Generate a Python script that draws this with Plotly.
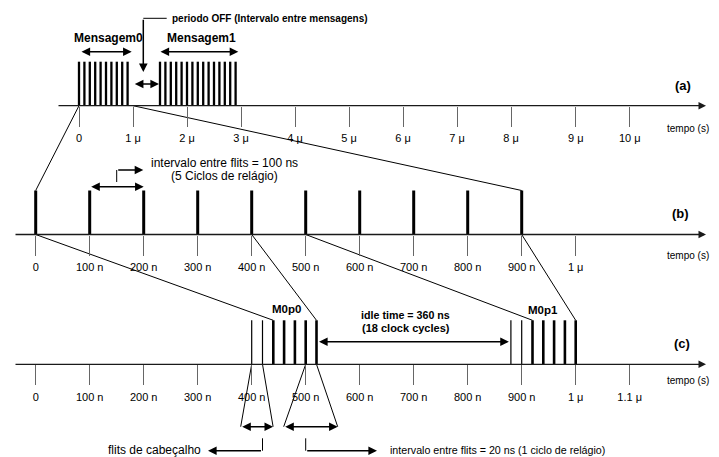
import plotly.graph_objects as go

# ---------------- data ----------------
# (a) message-level timeline, microseconds
msg0_flits_us = [0.0, 0.1, 0.2, 0.3, 0.4, 0.5, 0.6, 0.7, 0.8, 0.9]
msg1_flits_us = [1.5, 1.6, 1.7, 1.8, 1.9, 2.0, 2.1, 2.2, 2.3, 2.4, 2.5, 2.6, 2.7, 2.8, 2.9]
tick_a_pos = [0, 1, 2, 3, 4, 5, 6, 7, 8, 9.2, 10.2]
tick_a_text = ["0", "1 μ", "2 μ", "3 μ", "4 μ", "5 μ", "6 μ", "7 μ", "8 μ", "9 μ", "10 μ"]

# (b) flits of Mensagem0, nanoseconds
b_flits_ns = [0, 100, 200, 300, 400, 500, 600, 700, 800, 900]
tick_b_pos = [0, 100, 200, 300, 400, 500, 600, 700, 800, 900, 1000]
tick_b_text = ["0", "100 n", "200 n", "300 n", "400 n", "500 n", "600 n", "700 n", "800 n", "900 n", "1 μ"]

# (c) packets, nanoseconds
p0_header_ns = [400, 420]
p0_body_ns = [440, 460, 480, 500, 520]
p1_header_ns = [880, 900]
p1_body_ns = [920, 940, 960, 980, 1000]
tick_c_pos = [0, 100, 200, 300, 400, 500, 600, 700, 800, 900, 1000, 1100]
tick_c_text = ["0", "100 n", "200 n", "300 n", "400 n", "500 n", "600 n", "700 n", "800 n", "900 n", "1 μ", "1.1 μ"]

# ---------------- layout constants ----------------
PAGE_W, PAGE_H = 719, 457
OFF = 8                                # default page margin around the plot div
W, H = PAGE_W - OFF, PAGE_H - OFF
FONT = "Liberation Sans, Arial, sans-serif"
A_ORIGIN, A_SCALE = 79.0, 54.0        # px, px per microsecond
BC_ORIGIN, BC_SCALE = 35.7, 0.54      # px, px per nanosecond
YA, YB, YC = 105.7, 234.5, 364.3      # baselines (page px from top)
PH = 44.0                             # pulse height
AXIS_START_A, AXIS_START_BC, AXIS_END = 57, 14, 706

range_a = [(OFF - A_ORIGIN) / A_SCALE, (PAGE_W - A_ORIGIN) / A_SCALE]
range_bc = [(OFF - BC_ORIGIN) / BC_SCALE, (PAGE_W - BC_ORIGIN) / BC_SCALE]


def xa(t):
    return A_ORIGIN + A_SCALE * t


def xbc(t):
    return BC_ORIGIN + BC_SCALE * t


def pulses(times, base):
    xs, ys = [], []
    for t in times:
        xs += [t, t, None]
        ys += [base, base - PH, None]
    return xs, ys


fig = go.Figure()

# pulses
for times, base, ax, width in [
    (msg0_flits_us, YA, "x2", 2.3),
    (msg1_flits_us, YA, "x2", 2.3),
    (b_flits_ns, YB, "x3", 3.0),
    (p0_header_ns, YC, "x4", 1.2),
    (p0_body_ns, YC, "x4", 2.6),
    (p1_header_ns, YC, "x4", 1.2),
    (p1_body_ns, YC, "x4", 2.6),
]:
    xs, ys = pulses(times, base)
    fig.add_trace(go.Scatter(x=xs, y=ys, xaxis=ax, yaxis="y", mode="lines",
                             line=dict(color="black", width=width),
                             hoverinfo="skip", showlegend=False))

# connector lines (thin)
segs = [
    ((xa(0), YA), (xbc(0), YB - PH)),
    ((xa(1.0), YA), (xbc(900), YB - PH)),
    ((xbc(0), YB), (xbc(440), YC - PH)),
    ((xbc(400), YB), (xbc(520), YC - PH)),
    ((xbc(500), YB), (xbc(920), YC - PH)),
    ((xbc(900), YB), (xbc(1000), YC - PH)),
    # bottom trapezoids
    ((xbc(400), YC), (xbc(400) - 11, YC + 62.4)),
    ((xbc(420), YC), (xbc(420) + 10.6, YC + 62.4)),
    ((xbc(500), YC), (xbc(500) - 22, YC + 62.4)),
    ((xbc(520), YC), (xbc(520) + 21.2, YC + 62.4)),
    # bracket stems
    ((xbc(420), YC + 74), (xbc(420), YC + 86.4)),
    ((xbc(500), YC + 74), (xbc(500), YC + 86.4)),
    # bent arrow stems
    ((166.7, 18.3), (143.3, 18.3)),
    ((116.7, 182), (116.7, 170)),
]
cx, cy = [], []
for (x0, y0), (x1, y1) in segs:
    cx += [x0, x1, None]
    cy += [y0, y1, None]
fig.add_trace(go.Scatter(x=cx, y=cy, xaxis="x", yaxis="y", mode="lines",
                         line=dict(color="black", width=1), hoverinfo="skip",
                         showlegend=False))

annotations = []


def arrow(x0, y0, x1, y1, both=False, width=1.5, color="black"):
    d = dict(x=x1, y=y1, ax=x0, ay=y0, xref="x", yref="y", axref="x", ayref="y",
             text="", showarrow=True, arrowhead=2, arrowsize=1.15, arrowwidth=width,
             arrowcolor=color, standoff=0, startstandoff=0)
    if both:
        d.update(arrowside="end+start", startarrowhead=2, startarrowsize=1.15)
    annotations.append(d)


def text(x, y, s, size=11, bold=False, anchor="center"):
    annotations.append(dict(x=x, y=y, xref="x", yref="y", text=f"<b>{s}</b>" if bold else s,
                            showarrow=False, xanchor=anchor, yanchor="middle",
                            font=dict(family=FONT, size=size, color="black")))


# timeline axis lines with arrowheads
for base, start in [(YA, AXIS_START_A), (YB, AXIS_START_BC), (YC, AXIS_START_BC)]:
    arrow(start, base, AXIS_END, base, width=1.3, color="#1a1a1a")

# (a) annotations
arrow(80, 51.7, 131.7, 51.7, both=True)
arrow(159, 51.7, 238.3, 51.7, both=True)
arrow(133.3, 84, 159, 84, both=True)
arrow(143.3, 18.3, 143.3, 72)
text(108.3, 38, "Mensagem0", size=12, bold=True)
text(201.7, 38, "Mensagem1", size=12, bold=True)
text(170, 18, "periodo OFF (Intervalo entre mensagens)", size=10, bold=True, anchor="left")
text(683, 85, "(a)", size=13, bold=True)
text(711, 128, "tempo (s)", size=10, anchor="right")

# (b) annotations
arrow(xbc(100), 186.7, xbc(200), 186.7, both=True)
arrow(116.7, 170, 143.3, 170)
text(224, 163, "intervalo entre flits = 100 ns", size=12)
text(224, 175.5, "(5 Ciclos de relágio)", size=12)
text(680, 213, "(b)", size=13, bold=True)
text(711, 255, "tempo (s)", size=10, anchor="right")

# (c) annotations
arrow(xbc(520) + 1, 341.7, xbc(880) - 2, 341.7, both=True)
text(405.5, 315, "idle time = 360 ns", size=10.7, bold=True)
text(405.5, 327.5, "(18 clock cycles)", size=11, bold=True)
text(286, 309, "M0p0", size=11.5, bold=True)
text(543, 310, "M0p1", size=11.5, bold=True)
text(681.7, 343, "(c)", size=13, bold=True)
text(711, 380, "tempo (s)", size=10, anchor="right")

# bottom brackets
arrow(xbc(400) - 11, YC + 62.4, xbc(420) + 10.6, YC + 62.4, both=True)
arrow(xbc(500) - 22, YC + 62.4, xbc(520) + 21.2, YC + 62.4, both=True)
arrow(xbc(420), YC + 86.4, 208, YC + 86.4)
arrow(xbc(500), YC + 86.4, 377, YC + 86.4)
text(203, 450, "flits de cabeçalho", size=12, anchor="right")
text(388, 450, "intervalo entre flits = 20 ns (1 ciclo de relágio)", size=10.7, anchor="left")


def time_axis(rng, base, vals, labels):
    return dict(range=rng, overlaying="x", anchor="free", position=1 - (base - OFF) / H,
                side="bottom", tickmode="array", tickvals=vals, ticktext=labels,
                ticks="outside", ticklen=20, tickwidth=1.2, tickcolor="#666",
                showline=False, showgrid=False, zeroline=False,
                tickfont=dict(family=FONT, size=11, color="black"),
                ticklabelstandoff=2, fixedrange=True)


fig.update_layout(
    width=W, height=H,
    margin=dict(l=0, r=0, t=0, b=0),
    paper_bgcolor="white", plot_bgcolor="white",
    showlegend=False,
    xaxis=dict(range=[OFF, PAGE_W], domain=[0, 1], visible=False, fixedrange=True),
    yaxis=dict(range=[PAGE_H, OFF], domain=[0, 1], visible=False, fixedrange=True),
    xaxis2=time_axis(range_a, YA, tick_a_pos, tick_a_text),
    xaxis3=time_axis(range_bc, YB, tick_b_pos, tick_b_text),
    xaxis4=time_axis(range_bc, YC, tick_c_pos, tick_c_text),
    annotations=annotations,
)

fig.write_html("out.html")
